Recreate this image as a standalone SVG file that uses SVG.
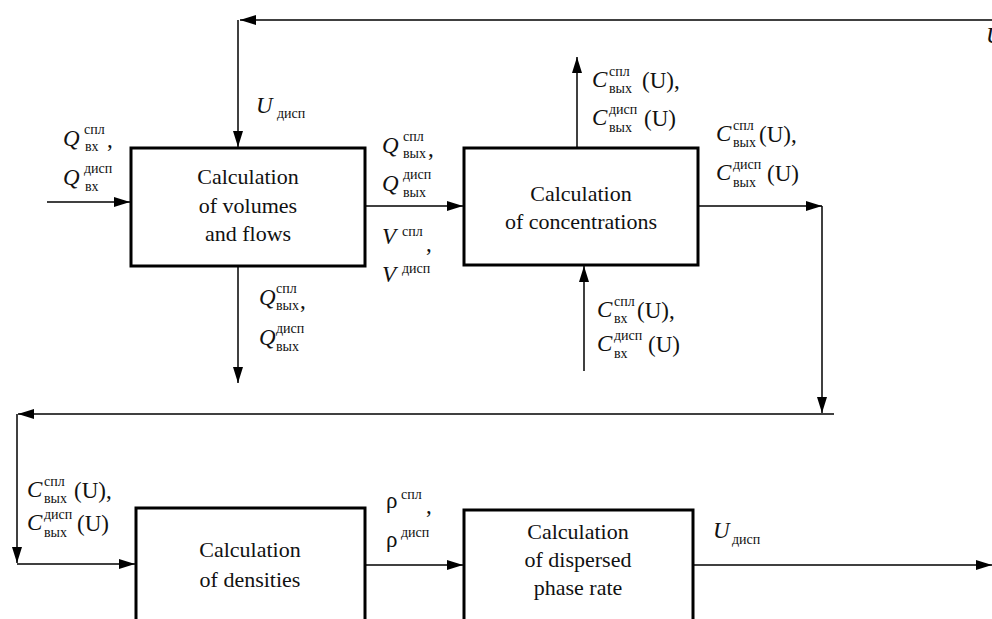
<svg xmlns="http://www.w3.org/2000/svg" width="992" height="619" viewBox="0 0 992 619">
<defs>
<marker id="ah" markerUnits="userSpaceOnUse" markerWidth="17" markerHeight="11" refX="16" refY="5" orient="auto">
<path d="M0,0 L16,5 L0,10 z" fill="#000"/>
</marker>
<style>
text{fill:#111}
.box{fill:#fff;stroke:#000;stroke-width:3}
.bt{font-size:22px;text-anchor:middle}
.m{font-size:23px;font-style:italic}
.r{font-size:23px}
.s{font-size:14px}
.c{fill:none;stroke:#000;stroke-width:1.5}
</style>
</defs>
<rect width="992" height="619" fill="#fff"/>
<g id="connectors">
<path class="c" d="M992,20 H240" marker-end="url(#ah)"/>
<path class="c" d="M238,20 V147" marker-end="url(#ah)"/>
<path class="c" d="M47,202 H130" marker-end="url(#ah)"/>
<path class="c" d="M366,206 H463" marker-end="url(#ah)"/>
<path class="c" d="M238,266 V383" marker-end="url(#ah)"/>
<path class="c" d="M577,148 V57" marker-end="url(#ah)"/>
<path class="c" d="M584,371 V266" marker-end="url(#ah)"/>
<path class="c" d="M698,206 H822" marker-end="url(#ah)"/>
<path class="c" d="M822,206 V413" marker-end="url(#ah)"/>
<path class="c" d="M834,414 H18" marker-end="url(#ah)"/>
<path class="c" d="M17,414 V563" marker-end="url(#ah)"/>
<path class="c" d="M17,564 H135" marker-end="url(#ah)"/>
<path class="c" d="M365,565 H463" marker-end="url(#ah)"/>
<path class="c" d="M693,565 H992" marker-end="url(#ah)"/>
</g>
<g font-family="Liberation Serif, Times New Roman, Tinos, DejaVu Serif, serif">
<g id="node-volumes">
<rect class="box" x="131" y="148" width="234" height="118"/>
<text class="bt" x="248" y="184">Calculation</text>
<text class="bt" x="248" y="213">of volumes</text>
<text class="bt" x="248" y="241">and flows</text>
</g>
<g id="node-concentrations">
<rect class="box" x="464" y="148" width="234" height="117"/>
<text class="bt" x="581" y="201">Calculation</text>
<text class="bt" x="581" y="229">of concentrations</text>
</g>
<g id="node-densities">
<rect class="box" x="136" y="508" width="229" height="130"/>
<text class="bt" x="250" y="557">Calculation</text>
<text class="bt" x="250" y="587">of densities</text>
</g>
<g id="node-rate">
<rect class="box" x="464" y="510" width="229" height="130"/>
<text class="bt" x="578" y="539">Calculation</text>
<text class="bt" x="578" y="567">of dispersed</text>
<text class="bt" x="578" y="595">phase rate</text>
</g>
<g id="labels">
<text class="m" x="63" y="146">Q</text><text class="s" x="84" y="134">спл</text><text class="s" x="85" y="151">вх</text><text class="r" x="107" y="147">,</text>
<text class="m" x="63" y="185">Q</text><text class="s" x="84" y="173">дисп</text><text class="s" x="85" y="191">вх</text>
<text class="m" x="256" y="113">U</text><text class="s" x="277" y="118">дисп</text>
<text class="m" x="382" y="153">Q</text><text class="s" x="403" y="141">спл</text><text class="s" x="403" y="158">вых</text><text class="r" x="428" y="156">,</text>
<text class="m" x="382" y="191">Q</text><text class="s" x="403" y="179">дисп</text><text class="s" x="403" y="197">вых</text>
<text class="m" x="382" y="244">V</text><text class="s" x="402" y="236">спл</text><text class="r" x="426" y="251">,</text>
<text class="m" x="382" y="282">V</text><text class="s" x="402" y="273">дисп</text>
<text class="m" x="259" y="305">Q</text><text class="s" x="276" y="293">спл</text><text class="s" x="276" y="310">вых</text><text class="r" x="300" y="308">,</text>
<text class="m" x="259" y="345">Q</text><text class="s" x="276" y="333">дисп</text><text class="s" x="276" y="351">вых</text>
<text class="m" x="592" y="87">C</text><text class="s" x="609" y="76">спл</text><text class="s" x="609" y="93">вых</text><text class="r" x="642" y="88">(U),</text>
<text class="m" x="592" y="125">C</text><text class="s" x="609" y="114">дисп</text><text class="s" x="609" y="132">вых</text><text class="r" x="644" y="126">(U)</text>
<text class="m" x="716" y="141">C</text><text class="s" x="733" y="130">спл</text><text class="s" x="733" y="147">вых</text><text class="r" x="759" y="142">(U),</text>
<text class="m" x="716" y="180">C</text><text class="s" x="733" y="169">дисп</text><text class="s" x="733" y="187">вых</text><text class="r" x="767" y="181">(U)</text>
<text class="m" x="597" y="317">C</text><text class="s" x="614" y="306">спл</text><text class="s" x="614" y="323">вх</text><text class="r" x="637" y="318">(U),</text>
<text class="m" x="597" y="351">C</text><text class="s" x="614" y="340">дисп</text><text class="s" x="614" y="358">вх</text><text class="r" x="648" y="352">(U)</text>
<text class="m" x="27" y="497">C</text><text class="s" x="44" y="486">спл</text><text class="s" x="44" y="503">вых</text><text class="r" x="74" y="498">(U),</text>
<text class="m" x="27" y="530">C</text><text class="s" x="44" y="519">дисп</text><text class="s" x="44" y="537">вых</text><text class="r" x="77" y="531">(U)</text>
<text class="r" x="386" y="508">ρ</text><text class="s" x="401" y="499">спл</text><text class="r" x="426" y="513">,</text>
<text class="r" x="386" y="547">ρ</text><text class="s" x="401" y="537">дисп</text>
<text class="m" x="713" y="538">U</text><text class="s" x="732" y="544">дисп</text>
<text class="m" x="986" y="43">U</text>
</g>
</g>
</svg>
